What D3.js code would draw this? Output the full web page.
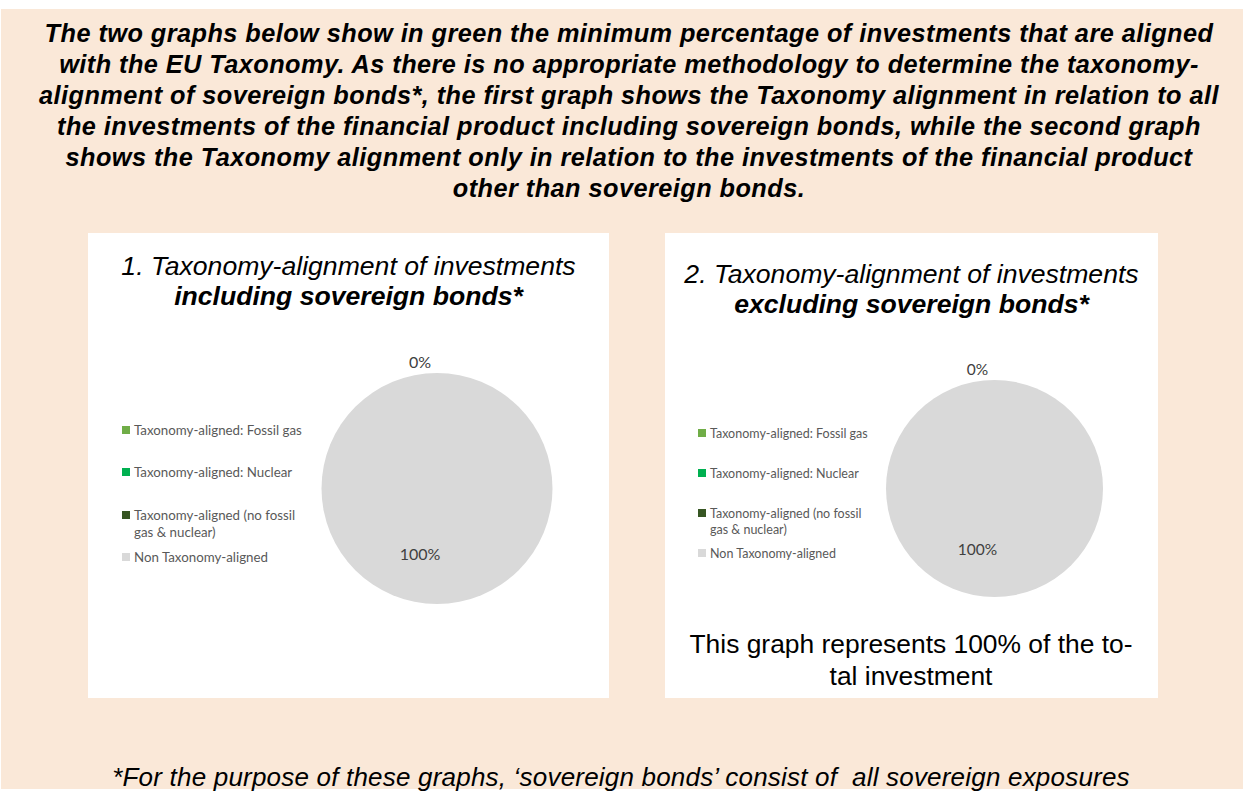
<!DOCTYPE html>
<html>
<head>
<meta charset="utf-8">
<script src="https://cdn.jsdelivr.net/npm/d3@7"></script>
<style>
  html, body { margin: 0; padding: 0; background: #ffffff; }
  svg { display: block; }
  text.pre { white-space: pre; }
</style>
</head>
<body>
<svg id="chart" width="1244" height="799"></svg>
<script>
// Series categories and colours
const categories = [
  "Taxonomy-aligned: Fossil gas",
  "Taxonomy-aligned: Nuclear",
  "Taxonomy-aligned (no fossil gas & nuclear)",
  "Non Taxonomy-aligned"
];
const legendLines = [
  ["Taxonomy-aligned: Fossil gas"],
  ["Taxonomy-aligned: Nuclear"],
  ["Taxonomy-aligned (no fossil", "gas & nuclear)"],
  ["Non Taxonomy-aligned"]
];
const sliceColors = ["#70ad47", "#00b050", "#375623", "#d9d9d9"];

// Percentages for the two pies
const valuesIncluding = [0, 0, 0, 100];
const valuesExcluding = [0, 0, 0, 100];

const introLines = [
  "The two graphs below show in green the minimum percentage of investments that are aligned",
  "with the EU Taxonomy. As there is no appropriate methodology to determine the taxonomy-",
  "alignment of sovereign bonds*, the first graph shows the Taxonomy alignment in relation to all",
  "the investments of the financial product including sovereign bonds, while the second graph",
  "shows the Taxonomy alignment only in relation to the investments of the financial product",
  "other than sovereign bonds."
];
const footnote = "*For the purpose of these graphs, \u2018sovereign bonds\u2019 consist of  all sovereign exposures";
const noteLines = ["This graph represents 100% of the to-", "tal investment"];

const FONT = "'Liberation Sans', Arial, sans-serif";
const LABEL_FONT = "Lato, 'Open Sans', sans-serif";

const svg = d3.select("#chart");

// Beige panel
svg.append("rect")
  .attr("x", 1).attr("y", 9).attr("width", 1242).attr("height", 780)
  .attr("fill", "#fae8d8");

// Intro paragraph
svg.append("g").selectAll("text").data(introLines).join("text")
  .attr("x", 629)
  .attr("y", (d, i) => 33 + i * 31)
  .attr("text-anchor", "middle")
  .attr("dominant-baseline", "central")
  .attr("font-family", FONT)
  .attr("font-style", "italic")
  .attr("font-weight", "bold")
  .attr("font-size", 25.3)
  .attr("letter-spacing", 0.45)
  .attr("fill", "#000")
  .text(d => d);

// Footnote
svg.append("text")
  .attr("class", "pre")
  .attr("x", 621).attr("y", 777)
  .attr("text-anchor", "middle")
  .attr("dominant-baseline", "central")
  .attr("font-family", FONT)
  .attr("font-style", "italic")
  .attr("font-size", 26)
  .attr("letter-spacing", 0.2)
  .attr("fill", "#000")
  .text(footnote);

const pie = d3.pie().sort(null).value(d => d);

function drawPanel(cfg) {
  const g = svg.append("g");
  // white chart area
  g.append("rect")
    .attr("x", cfg.box[0]).attr("y", cfg.box[1])
    .attr("width", cfg.box[2]).attr("height", cfg.box[3])
    .attr("fill", "#ffffff");

  const cx = cfg.box[0] + cfg.box[2] / 2;
  // Title, two lines
  g.append("text")
    .attr("x", cx).attr("y", cfg.titleY[0])
    .attr("text-anchor", "middle").attr("dominant-baseline", "central")
    .attr("font-family", FONT)
    .attr("font-style", "italic").attr("font-size", cfg.titleSize)
    .attr("fill", "#000")
    .text(cfg.title[0]);
  g.append("text")
    .attr("x", cx).attr("y", cfg.titleY[1])
    .attr("text-anchor", "middle").attr("dominant-baseline", "central")
    .attr("font-family", FONT)
    .attr("font-style", "italic").attr("font-weight", "bold")
    .attr("font-size", cfg.titleSize)
    .attr("fill", "#000")
    .text(cfg.title[1]);

  // Pie
  const r = cfg.radius;
  const arcs = pie(cfg.values);
  const arc = d3.arc().innerRadius(0).outerRadius(r);
  const pg = g.append("g").attr("transform", `translate(${cfg.center[0]},${cfg.center[1]})`);
  pg.selectAll("path").data(arcs).join("path")
    .attr("d", arc)
    .attr("fill", (d, i) => sliceColors[i]);

  // Data labels: empty slices sit outside the rim, filled slices inside.
  // Labels landing on the same spot are drawn once.
  const outerLabel = d3.arc().innerRadius(r + 11.5).outerRadius(r + 11.5);
  const innerLabel = d3.arc().innerRadius(r * 0.56).outerRadius(r * 0.56);
  const seen = new Set();
  const labels = arcs.map(d => {
    const c = (d.endAngle - d.startAngle) > 0 ? innerLabel.centroid(d) : outerLabel.centroid(d);
    return { d, c, key: c.map(v => v.toFixed(1)).join(",") };
  }).filter(l => (seen.has(l.key) ? false : (seen.add(l.key), true)));

  pg.selectAll("text.lbl").data(labels).join("text")
    .attr("class", "lbl")
    .attr("transform", l => `translate(${l.c[0] + cfg.labelDx},${l.c[1]})`)
    .attr("text-anchor", "middle").attr("dominant-baseline", "central")
    .attr("font-family", LABEL_FONT)
    .attr("font-size", cfg.labelSize)
    .attr("fill", "#404040")
    .text(l => d3.format(".0%")(l.d.data / 100));

  // Legend
  const lg = g.append("g");
  categories.forEach((c, i) => {
    const y = cfg.legendY[i];
    lg.append("rect")
      .attr("x", cfg.legendX).attr("y", y - 4)
      .attr("width", 8).attr("height", 8)
      .attr("fill", sliceColors[i]);
    legendLines[i].forEach((line, j) => {
      lg.append("text")
        .attr("x", cfg.legendX + 12)
        .attr("y", y + j * cfg.legendLine)
        .attr("dominant-baseline", "central")
        .attr("font-family", LABEL_FONT)
        .attr("font-size", cfg.legendSize)
        .attr("fill", "#595959")
        .text(line);
    });
  });
  return g;
}

drawPanel({
  box: [88, 233, 521, 465],
  title: ["1. Taxonomy-alignment of investments", "including sovereign bonds*"],
  titleY: [266, 296],
  titleSize: 26.6,
  values: valuesIncluding,
  center: [437, 488.5],
  radius: 115.5,
  labelDx: -17,
  labelSize: 16,
  legendX: 122,
  legendY: [430, 472, 515, 557],
  legendLine: 17,
  legendSize: 13.3
});

const p2 = drawPanel({
  box: [665, 233, 493, 465],
  title: ["2. Taxonomy-alignment of investments", "excluding sovereign bonds*"],
  titleY: [274, 304],
  titleSize: 26.6,
  values: valuesExcluding,
  center: [994.5, 488.5],
  radius: 108.5,
  labelDx: -17,
  labelSize: 15.5,
  legendX: 698,
  legendY: [433, 473, 513, 553],
  legendLine: 16,
  legendSize: 12.5
});

// Note beneath the second pie
p2.selectAll("text.note").data(noteLines).join("text")
  .attr("class", "note")
  .attr("x", 911)
  .attr("y", (d, i) => 644 + i * 32)
  .attr("text-anchor", "middle").attr("dominant-baseline", "central")
  .attr("font-family", FONT)
  .attr("font-size", 26.4)
  .attr("fill", "#000")
  .text(d => d);
</script>
</body>
</html>
